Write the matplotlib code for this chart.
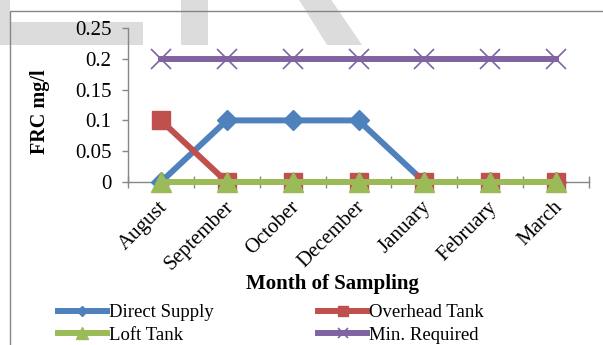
import matplotlib
matplotlib.use("Agg")
from matplotlib import pyplot as plt
from matplotlib.patches import Polygon, Rectangle
from matplotlib.transforms import ScaledTranslation
import numpy as np

months = ["August", "September", "October", "December", "January", "February", "March"]
direct_supply = [0, 0.1, 0.1, 0.1, 0, 0, 0]
overhead_tank = [0.1, 0, 0, 0, 0, 0, 0]
loft_tank = [0, 0, 0, 0, 0, 0, 0]
min_required = [0.2, 0.2, 0.2, 0.2, 0.2, 0.2, 0.2]

W, H = 603, 345
plt.rcParams['font.family'] = ['Liberation Serif', 'DejaVu Serif']

fig = plt.figure(figsize=(W / 100, H / 100), dpi=100)


def px(x, y):
    # pixel position (from top-left) to figure fraction
    return (x / W, 1 - y / H)


# faint watermark shapes behind the chart
grey = "#dcdcdc"
shapes = [
    [(-5, -5), (10, -5), (10, 22), (143, 22), (143, 45), (-5, 45)],
    [(181, -5), (208, -5), (208, 45), (181, 45)],
    [(296, -5), (328, -5), (362, 45), (327, 45)],
]
for pts in shapes:
    fig.patches.append(Polygon([px(*p) for p in pts], closed=True, transform=fig.transFigure,
                               facecolor=grey, edgecolor="none", zorder=-5))

# chart border
fig.patches.append(Rectangle(px(9.5, 400), 700 / W, (400 - 11) / H, transform=fig.transFigure,
                             facecolor="none", edgecolor="#868686", lw=1.0, zorder=-4))

left, right, top, bottom = 128, 589, 28, 182
ax = fig.add_axes([left / W, 1 - bottom / H, (right - left) / W, (bottom - top) / H])
ax.set_facecolor("none")

x = np.arange(len(months))
ax.plot(x, direct_supply, color="#4F81BD", lw=4.3, marker="D", ms=10, label="Direct Supply", clip_on=False, zorder=3)
ax.plot(x, overhead_tank, color="#C0504D", lw=4.3, marker="s", ms=13.5, label="Overhead Tank", clip_on=False, zorder=4)
ax.plot(x, loft_tank, color="#9BBB59", lw=4.3, marker="^", ms=14.5, label="Loft Tank", clip_on=False, zorder=5)
ax.plot(x, min_required, color="#8064A2", lw=4.3, marker="x", ms=14, mew=1.2, label="Min. Required", clip_on=False, zorder=6)

ax.set_xlim(-0.5, len(months) - 0.5)
ax.set_ylim(0, 0.25)
ax.set_yticks(np.arange(0, 0.26, 0.05))
ax.set_yticklabels(["0", "0.05", "0.1", "0.15", "0.2", "0.25"])

ax.set_xticks(x)
ax.set_xticklabels(months, rotation=45, ha="right", va="center", rotation_mode="anchor")
ax.set_xticks(np.arange(-0.5, len(months), 1.0), minor=True)
ax.tick_params(axis="x", which="major", length=0, pad=16, labelsize=15)
ax.tick_params(axis="x", which="minor", length=8, direction="inout", color="#868686", width=1.0)
ax.tick_params(axis="y", length=4, direction="out", color="#868686", width=1.0, labelsize=15, pad=8)

# nudge the slanted month labels a little to the right
shift = ScaledTranslation(4 / 100, 0, fig.dpi_scale_trans)
for lbl in ax.get_xticklabels():
    lbl.set_transform(lbl.get_transform() + shift)

for side in ["top", "right"]:
    ax.spines[side].set_visible(False)
for side in ["left", "bottom"]:
    ax.spines[side].set_color("#868686")
    ax.spines[side].set_linewidth(1.0)

fig.text(*px(40, 112), "FRC mg/l", rotation=90, ha="center", va="center", fontsize=14.5, fontweight="bold")
fig.text(*px(332, 284), "Month of Sampling", ha="center", va="center", fontsize=15, fontweight="bold")

handles, labels = ax.get_legend_handles_labels()
order = [0, 2, 1, 3]
fig.legend([handles[i] for i in order], [labels[i] for i in order], ncol=2, loc="upper left",
           bbox_to_anchor=px(58, 304), frameon=False, fontsize=13.5, borderpad=0, borderaxespad=0,
           handlelength=2.6, handletextpad=0.1, columnspacing=5.6, labelspacing=0.3, markerscale=0.55)

fig.savefig("out.png", dpi=100)
